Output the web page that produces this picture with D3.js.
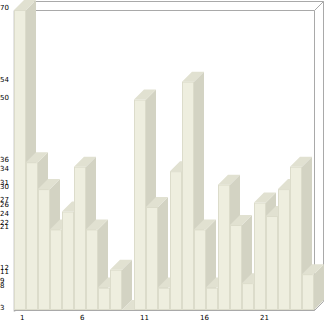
<!DOCTYPE html>
<html>
<head>
<meta charset="utf-8">
<script src="https://cdn.jsdelivr.net/npm/d3@7"></script>
<style>
  body { margin: 0; background: #fff; }
  svg text { font-family: "DejaVu Sans", sans-serif; font-size: 7px; fill: #000; }
</style>
</head>
<body>
<div id="chart"></div>
<script>
// categories along x, one bar each
var categories = [1,2,3,4,5,6,7,8,9,10,11,12,13,14,15,16,17,18,19,20,21,22,23,24,25];
var values = [70,36,30,21,25,35,21,8,12,3,50,26,8,34,54,21,8,31,22,9,27,24,30,35,11];
var yTicks = [70,54,50,36,34,31,30,27,26,24,22,21,12,11,9,8,3];
var xTicks = [1,6,11,16,21];

var width = 326, height = 321;
var depth = 10;

var svg = d3.select("#chart").append("svg")
  .attr("width", width)
  .attr("height", height);

var x = d3.scaleBand()
  .domain(categories)
  .range([14, 314])
  .padding(0);

var y = d3.scaleLinear()
  .domain([d3.min(values), d3.max(values)])
  .range([310, 10]);

/* ------- FRAME -------*/
var frame = svg.append("g")
  .attr("fill", "none")
  .attr("stroke", "#a9a9a9")
  .attr("stroke-width", 1);
var fx0 = 14.5, fx1 = 314.5, fy0 = 10.5, fy1 = 310.5, fd = 9;
frame.append("path")
  .attr("d", "M" + fx0 + "," + fy0 + "H" + fx1 + "V" + fy1 + "H" + fx0 + "Z");
frame.append("path")
  .attr("d", "M" + fx0 + "," + fy0 + "L" + (fx0 + fd) + "," + (fy0 - fd) +
    "H" + (fx1 + fd) + "V" + (fy1 - fd) + "L" + fx1 + "," + fy1 +
    "M" + fx1 + "," + fy0 + "L" + (fx1 + fd) + "," + (fy0 - fd));
frame.append("line")
  .attr("x1", fx0).attr("x2", fx0).attr("y1", fy0).attr("y2", fy1 + 1)
  .attr("stroke-width", 1.6);

/* ------- BARS -------*/
var bars = svg.append("g").attr("class", "bars")
  .selectAll("g")
  .data(values.map(function(v, i){ return { cat: categories[i], value: v }; }))
  .enter().append("g");

bars.each(function(d){
  var g = d3.select(this);
  var x0 = x(d.cat), x1 = x0 + x.bandwidth();
  var yt = y(d.value), yb = y.range()[0];
  // front
  g.append("rect")
    .attr("x", x0 + 0.5).attr("y", yt + 0.5)
    .attr("width", x.bandwidth() - 1).attr("height", Math.max(0, yb - yt - 1))
    .attr("fill", "#eeeedf")
    .attr("stroke", "#dcdccb")
    .attr("stroke-width", 1);
  // side
  g.append("path")
    .attr("d", "M" + x1 + "," + yt + "L" + (x1 + depth) + "," + (yt - depth) +
      "V" + (yb - depth) + "L" + x1 + "," + yb + "Z")
    .attr("fill", "#d3d3c3");
  // top
  g.append("path")
    .attr("d", "M" + x0 + "," + yt + "L" + (x0 + depth) + "," + (yt - depth) +
      "H" + (x1 + depth) + "L" + x1 + "," + yt + "Z")
    .attr("fill", "#e1e1d1");
});

/* ------- LABELS -------*/
svg.append("g").selectAll("text")
  .data(yTicks)
  .enter().append("text")
  .attr("x", 0)
  .attr("y", function(d){ return y(d) - 2.5; })
  .attr("dy", "0.35em")
  .text(function(d){ return d; });

svg.append("g").selectAll("text")
  .data(xTicks)
  .enter().append("text")
  .attr("x", function(d){ return x(d) + x.bandwidth() / 2; })
  .attr("y", 320)
  .text(function(d){ return d; });
</script>
</body>
</html>
